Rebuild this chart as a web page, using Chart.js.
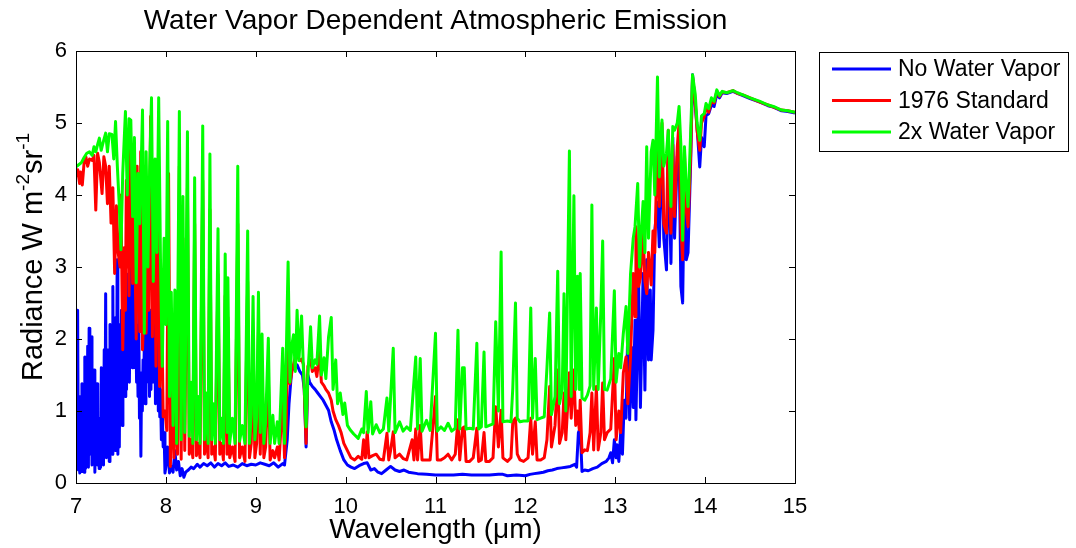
<!DOCTYPE html>
<html>
<head>
<meta charset="utf-8">
<script src="https://cdn.jsdelivr.net/npm/chart.js@4.4.1/dist/chart.umd.min.js"></script>
<style>
  html, body { margin: 0; padding: 0; background: #fff; }
  #wrap { position: relative; width: 1076px; height: 548px; }
</style>
</head>
<body>
<div id="wrap"><canvas id="chart-1" width="1076" height="548"></canvas></div>
<script>
const ctx1 = document.getElementById('chart-1');

const chartTitle = 'Water Vapor Dependent Atmospheric Emission';
const xTitle = 'Wavelength (\u03bcm)';
const seriesLabels = ['No Water Vapor', '1976 Standard', '2x Water Vapor'];
const seriesColors = ['#0000ff', '#ff0000', '#00ff00'];
const xTicks = [7, 8, 9, 10, 11, 12, 13, 14, 15];
const yTicks = [0, 1, 2, 3, 4, 5, 6];

// No Water Vapor
const wlBlue = [
  7.000, 7.008, 7.018, 7.026, 7.034, 7.042, 7.050, 7.058, 7.066, 7.074, 7.082, 7.090, 7.098, 7.106, 7.114, 7.122,
  7.130, 7.138, 7.146, 7.154, 7.162, 7.170, 7.178, 7.186, 7.194, 7.202, 7.210, 7.218, 7.226, 7.234, 7.242, 7.250,
  7.258, 7.266, 7.274, 7.282, 7.290, 7.298, 7.306, 7.314, 7.322, 7.330, 7.338, 7.346, 7.354, 7.362, 7.370, 7.378,
  7.386, 7.394, 7.402, 7.410, 7.418, 7.426, 7.434, 7.442, 7.450, 7.458, 7.466, 7.474, 7.482, 7.490, 7.498, 7.506,
  7.514, 7.522, 7.530, 7.538, 7.546, 7.554, 7.562, 7.570, 7.578, 7.586, 7.594, 7.602, 7.610, 7.618, 7.626, 7.634,
  7.642, 7.650, 7.658, 7.666, 7.674, 7.682, 7.690, 7.698, 7.706, 7.714, 7.722, 7.730, 7.738, 7.746, 7.754, 7.762,
  7.770, 7.778, 7.786, 7.794, 7.802, 7.810, 7.818, 7.826, 7.834, 7.842, 7.850, 7.860, 7.868, 7.876, 7.884, 7.892,
  7.900, 7.908, 7.916, 7.924, 7.932, 7.940, 7.950, 7.960, 7.970, 7.980, 7.990, 8.000,
  8.02, 8.04, 8.06, 8.08,
  8.10, 8.12, 8.14, 8.16, 8.18, 8.20, 8.22, 8.25, 8.28, 8.31, 8.35, 8.38, 8.42, 8.46, 8.50, 8.54, 8.58, 8.62, 8.66,
  8.70, 8.75, 8.80, 8.85, 8.90, 8.95, 9.00, 9.05, 9.10, 9.15, 9.20, 9.25, 9.30, 9.32, 9.35, 9.37, 9.40, 9.43, 9.46,
  9.49, 9.52, 9.54, 9.56, 9.58, 9.60, 9.63, 9.66, 9.69, 9.72, 9.75, 9.78, 9.81, 9.84, 9.87, 9.90, 9.94, 9.98, 10.02,
  10.06, 10.10, 10.15, 10.20, 10.24, 10.28, 10.32, 10.36, 10.40, 10.45, 10.50, 10.55, 10.60, 10.65, 10.70, 10.80,
  10.90, 11.00, 11.10, 11.20, 11.30, 11.40, 11.50, 11.60, 11.70, 11.75, 11.80, 11.90, 12.00, 12.05, 12.10, 12.15,
  12.20, 12.25, 12.30, 12.35, 12.40, 12.45, 12.50, 12.55, 12.57, 12.59, 12.61, 12.63, 12.66, 12.70, 12.75, 12.80,
  12.85, 12.90, 12.93, 12.95, 12.97, 12.99, 13.01, 13.02, 13.04, 13.06, 13.08, 13.10, 13.12, 13.14, 13.16, 13.18,
  13.20, 13.22, 13.23, 13.26, 13.28, 13.31, 13.33, 13.35, 13.37, 13.39, 13.40, 13.42, 13.44, 13.47, 13.49, 13.52,
  13.54, 13.57, 13.59, 13.62, 13.64, 13.66, 13.69, 13.71, 13.73, 13.75, 13.77, 13.79, 13.81, 13.84, 13.86, 13.89,
  13.91, 13.94, 13.96, 13.99, 14.01, 14.04, 14.07, 14.10, 14.13, 14.16, 14.19, 14.24, 14.31, 14.36, 14.42, 14.50,
  14.61, 14.70, 14.76, 14.85, 14.92, 15.00
];
const radBlue = [
  1.48, 0.23, 2.40, 0.18, 0.60, 0.14, 1.20, 0.16, 1.38, 0.25, 0.90, 0.15, 1.75, 0.20, 1.30, 0.30,
  1.90, 0.22, 2.15, 0.40, 1.60, 2.03, 0.25, 1.20, 0.30, 1.57, 0.15, 1.10, 0.30, 1.38, 0.25, 0.70,
  0.20, 0.90, 0.22, 1.60, 0.30, 1.20, 0.25, 1.85, 0.40, 2.63, 0.35, 1.40, 0.50, 1.85, 0.30, 2.20,
  0.50, 1.60, 0.40, 2.73, 0.60, 1.90, 0.45, 2.30, 0.80, 3.10, 0.40, 2.00, 0.50, 2.20, 1.20, 2.40,
  0.80, 3.10, 1.50, 2.50, 1.20, 2.40, 1.30, 2.90, 1.60, 2.68, 1.40, 2.36, 1.80, 3.00, 1.60, 2.50,
  1.90, 3.38, 1.60, 2.20, 1.40, 1.99, 1.20, 2.40, 0.90, 1.50, 0.37, 1.53, 1.00, 1.71, 1.30, 2.20,
  1.10, 1.80, 1.40, 2.60, 1.50, 1.90, 1.20, 2.40, 1.30, 2.30, 1.40, 3.19, 1.40, 2.50, 1.10, 2.77,
  1.30, 2.12, 1.00, 1.80, 0.92, 1.30, 0.60, 1.00, 0.50, 0.70, 0.14, 0.23,
  0.50, 0.14, 0.23, 0.15,
  0.45, 0.18, 0.30, 0.10, 0.20, 0.08, 0.15, 0.18, 0.22, 0.20, 0.26, 0.22, 0.27, 0.24, 0.28, 0.22, 0.27, 0.24, 0.28,
  0.23, 0.25, 0.22, 0.27, 0.24, 0.26, 0.25, 0.28, 0.26, 0.24, 0.28, 0.22, 0.27, 0.25, 0.60, 1.10, 1.57, 1.60, 1.64,
  1.55, 1.50, 1.30, 0.50, 1.50, 1.40, 1.34, 1.30, 1.25, 1.20, 1.15, 1.08, 1.01, 0.85, 0.74, 0.60, 0.45, 0.32, 0.25,
  0.22, 0.20, 0.24, 0.27, 0.28, 0.18, 0.20, 0.15, 0.13, 0.18, 0.23, 0.18, 0.16, 0.18, 0.15, 0.13,
  0.12, 0.11, 0.11, 0.11, 0.12, 0.11, 0.11, 0.11, 0.12, 0.12, 0.10, 0.11, 0.10, 0.12, 0.13, 0.14,
  0.15, 0.17, 0.18, 0.20, 0.21, 0.22, 0.23, 0.26, 0.22, 0.70, 0.76, 0.16, 0.18, 0.17, 0.20, 0.22,
  0.27, 0.30, 0.35, 0.42, 0.28, 0.60, 0.35, 0.53, 0.30, 0.69, 0.40, 1.15, 0.90, 2.17, 0.88, 1.89,
  1.05, 2.26, 0.88, 2.82, 1.05, 2.91, 1.29, 3.10, 1.71, 2.68, 1.71, 2.12, 3.50, 3.90, 3.28, 4.80,
  3.40, 2.96, 4.70, 3.05, 4.80, 3.40, 4.53, 4.70, 2.73, 2.50, 4.30, 3.10, 3.20, 4.50, 5.67, 5.25,
  4.95, 4.39, 4.80, 4.67, 5.10, 5.13, 5.25, 5.23, 5.40, 5.35, 5.42, 5.41, 5.44, 5.41, 5.38, 5.34,
  5.29, 5.24, 5.22, 5.17, 5.16, 5.14
];

// 1976 Standard
const wlRed = [
  7.00, 7.02, 7.04, 7.05, 7.07, 7.09, 7.11, 7.13, 7.15, 7.18, 7.20, 7.22, 7.24, 7.26, 7.29, 7.31, 7.33, 7.35, 7.37,
  7.39, 7.41, 7.43, 7.45, 7.47, 7.49, 7.50, 7.52, 7.54, 7.55, 7.56, 7.57, 7.58, 7.59, 7.61, 7.63, 7.64, 7.65, 7.67,
  7.68, 7.69, 7.71, 7.72, 7.74, 7.76, 7.77, 7.78, 7.80, 7.81, 7.83, 7.85, 7.87, 7.89, 7.91, 7.93, 7.95, 7.97, 7.99,
  8.01, 8.03, 8.05, 8.07, 8.09, 8.11, 8.13, 8.15, 8.17,
  8.19, 8.21, 8.24, 8.26, 8.28, 8.30, 8.32, 8.34, 8.36, 8.38, 8.41, 8.43, 8.45, 8.47, 8.49, 8.51, 8.53, 8.55, 8.58,
  8.60, 8.62, 8.64, 8.66, 8.68, 8.69, 8.71, 8.74, 8.77, 8.80, 8.82, 8.85, 8.88, 8.91, 8.93, 8.95, 8.97, 8.99, 9.01,
  9.03, 9.05, 9.07, 9.09, 9.11, 9.14, 9.16, 9.19, 9.21, 9.24, 9.26, 9.30, 9.32, 9.34, 9.36, 9.38, 9.41, 9.44, 9.46,
  9.49, 9.51, 9.53, 9.56, 9.58, 9.61, 9.63, 9.66, 9.68, 9.71, 9.73, 9.76, 9.78, 9.81, 9.84, 9.86, 9.89, 9.92, 9.95,
  9.98, 10.02, 10.06, 10.10, 10.14, 10.18, 10.20, 10.22, 10.24, 10.26, 10.30, 10.34, 10.38, 10.42, 10.46, 10.48,
  10.50, 10.53, 10.55, 10.60, 10.64, 10.68, 10.74, 10.76, 10.78, 10.80, 10.83, 10.85, 10.90, 10.94, 11.00, 11.02,
  11.06, 11.10, 11.14, 11.18, 11.22, 11.25, 11.27, 11.30, 11.32, 11.34, 11.38, 11.42, 11.46, 11.48, 11.51, 11.54,
  11.56, 11.60, 11.64, 11.67, 11.70, 11.73, 11.75, 11.80, 11.84, 11.86, 11.89, 11.91, 11.94, 11.98, 12.03, 12.06,
  12.08, 12.11, 12.13, 12.17, 12.21, 12.24, 12.27, 12.29, 12.33, 12.36, 12.38, 12.41, 12.43, 12.45, 12.49, 12.51,
  12.54, 12.56, 12.58, 12.60, 12.61, 12.63, 12.66, 12.69, 12.72, 12.74, 12.76, 12.79, 12.81, 12.84, 12.86, 12.88,
  12.91, 12.95, 12.99, 13.01, 13.04, 13.06, 13.09, 13.12, 13.14, 13.17, 13.20, 13.22, 13.23, 13.26, 13.28, 13.31,
  13.33, 13.35, 13.37, 13.40, 13.42, 13.44, 13.47, 13.49, 13.52, 13.54, 13.57, 13.59, 13.62, 13.64, 13.66, 13.69,
  13.71, 13.73, 13.75, 13.77, 13.79, 13.81, 13.84, 13.86, 13.89, 13.91, 13.94, 13.96, 13.99, 14.01, 14.04, 14.07,
  14.10, 14.13, 14.16, 14.19, 14.24, 14.31, 14.36, 14.42, 14.50, 14.61, 14.70, 14.76, 14.85, 14.92, 15.00
];
const radRed = [
  4.25, 4.35, 4.16, 4.32, 4.14, 4.45, 4.53, 4.40, 4.50, 4.48, 4.55, 3.79, 4.58, 4.45, 4.02, 4.53, 4.40, 3.88, 4.40,
  3.61, 4.10, 2.91, 3.85, 3.19, 3.00, 4.00, 1.85, 3.27, 2.40, 4.20, 3.00, 4.62, 2.60, 4.72, 2.77, 4.20, 3.70, 2.00,
  4.40, 3.27, 2.10, 4.60, 1.85, 2.60, 4.00, 2.08, 3.50, 2.40, 5.09, 2.03, 4.16, 1.62, 4.50, 1.34, 2.80, 0.92, 1.00,
  0.73, 4.30, 0.23, 1.40, 0.35, 1.30, 0.40, 4.40, 0.33,
  3.40, 0.45, 4.10, 0.40, 0.60, 0.35, 3.60, 0.38, 0.55, 0.35, 4.20, 0.40, 0.69, 0.35, 3.80, 0.40, 0.50, 0.32, 2.90,
  0.40, 0.55, 0.32, 2.60, 0.40, 2.30, 0.35, 0.50, 0.30, 3.60, 0.35, 0.50, 0.30, 2.80, 0.35, 0.55, 2.00, 0.35, 0.55,
  2.10, 0.40, 1.60, 0.35, 0.50, 1.50, 0.32, 0.45, 0.35, 0.50, 0.32, 1.20, 0.35, 0.83, 2.20, 1.38, 1.60, 1.75, 1.77,
  1.70, 1.72, 1.65, 0.55, 1.62, 1.71, 1.55, 1.60, 1.48, 1.82, 1.40, 1.35, 1.30, 1.25, 1.15, 1.00, 0.88, 0.80, 0.70,
  0.55, 0.45, 0.35, 0.32, 0.37, 0.33, 0.60, 0.35, 0.71, 0.35, 0.38, 0.40, 0.33, 0.32, 0.69, 0.32,
  0.45, 0.71, 0.35, 0.40, 0.34, 0.32, 0.60, 0.32, 0.75, 0.32, 0.80, 0.32, 0.32, 0.32, 1.20, 0.32,
  0.32, 0.35, 0.40, 0.32, 0.40, 0.88, 0.32, 0.76, 0.78, 0.30, 0.30, 0.35, 0.76, 0.30, 0.32, 0.70,
  0.30, 0.30, 0.35, 1.06, 0.50, 1.01, 0.35, 0.30, 0.35, 0.85, 0.90, 0.40, 0.32, 0.30, 0.35, 0.90,
  0.40, 0.85, 0.32, 0.32, 0.35, 0.60, 1.34, 0.50, 0.80, 1.57, 0.55, 0.70, 1.25, 0.60, 1.53, 0.90,
  1.57, 0.80, 1.00, 0.74, 1.15, 0.42, 0.46, 0.45, 0.70, 1.25, 0.46, 1.34, 0.46, 0.70, 1.39, 0.60,
  0.70, 0.75, 1.73, 0.60, 1.00, 0.70, 1.53, 1.75, 1.10, 1.75, 2.91, 2.31, 3.56, 2.73, 2.85, 3.47,
  2.80, 2.63, 3.20, 2.75, 3.50, 3.20, 4.86, 3.84, 5.00, 3.60, 3.47, 4.90, 3.47, 4.70, 3.70, 4.67,
  5.00, 3.56, 3.10, 4.60, 3.79, 3.56, 4.60, 5.64, 5.30, 4.90, 4.62, 5.00, 5.09, 5.20, 5.15, 5.30,
  5.28, 5.44, 5.37, 5.43, 5.42, 5.45, 5.41, 5.39, 5.35, 5.29, 5.25, 5.22, 5.18, 5.17, 5.15
];

// 2x Water Vapor
const wlGreen = [
  7.00, 7.03, 7.06, 7.09, 7.12, 7.15, 7.18, 7.20, 7.22, 7.24, 7.26, 7.28, 7.30, 7.33, 7.35, 7.37, 7.40, 7.42, 7.44,
  7.46, 7.48, 7.50, 7.52, 7.55, 7.57, 7.59, 7.61, 7.63, 7.65, 7.67, 7.69, 7.71, 7.74, 7.76, 7.78, 7.80, 7.82, 7.84,
  7.86, 7.88, 7.90, 7.92, 7.94, 7.96, 7.98, 8.00, 8.02, 8.04, 8.06, 8.08, 8.10, 8.12, 8.15, 8.17, 8.19, 8.21, 8.24,
  8.26, 8.28, 8.30, 8.32, 8.34, 8.36, 8.38, 8.41, 8.43, 8.45, 8.47, 8.49, 8.51, 8.53, 8.55, 8.58, 8.60, 8.62, 8.64,
  8.66, 8.68, 8.69, 8.71, 8.74, 8.77, 8.80, 8.82, 8.85, 8.88, 8.91, 8.93, 8.95, 8.97, 8.99, 9.01, 9.03, 9.05, 9.07,
  9.09, 9.11, 9.14, 9.16, 9.19, 9.21, 9.24, 9.26, 9.30, 9.32, 9.36, 9.38, 9.40, 9.42, 9.44, 9.46, 9.48, 9.51, 9.53,
  9.56, 9.58, 9.61, 9.63, 9.66, 9.68, 9.71, 9.73, 9.76, 9.78, 9.81, 9.84, 9.86, 9.89, 9.91, 9.94, 9.97, 9.99, 10.02,
  10.05, 10.09, 10.14, 10.18, 10.20, 10.23, 10.25, 10.28, 10.30, 10.34, 10.38, 10.42, 10.46, 10.48, 10.53, 10.55,
  10.60, 10.64, 10.68, 10.72, 10.78, 10.80, 10.83, 10.85, 10.90, 10.94, 11.00, 11.02, 11.06, 11.10, 11.14, 11.18,
  11.22, 11.25, 11.27, 11.30, 11.32, 11.34, 11.38, 11.42, 11.46, 11.48, 11.51, 11.54, 11.56, 11.60, 11.64, 11.67,
  11.70, 11.73, 11.75, 11.80, 11.84, 11.86, 11.89, 11.91, 11.94, 11.98, 12.03, 12.06, 12.08, 12.11, 12.13, 12.17,
  12.21, 12.24, 12.27, 12.29, 12.33, 12.36, 12.38, 12.41, 12.43, 12.45, 12.49, 12.51, 12.54, 12.56, 12.58, 12.60,
  12.61, 12.63, 12.66, 12.69, 12.72, 12.74, 12.76, 12.79, 12.81, 12.84, 12.86, 12.88, 12.91, 12.95, 12.99, 13.01,
  13.04, 13.06, 13.09, 13.12, 13.14, 13.17, 13.20, 13.22, 13.25, 13.27, 13.29, 13.31, 13.33, 13.35, 13.37, 13.40,
  13.42, 13.44, 13.47, 13.49, 13.52, 13.54, 13.57, 13.59, 13.62, 13.64, 13.66, 13.69, 13.71, 13.73, 13.75, 13.77,
  13.79, 13.81, 13.84, 13.86, 13.89, 13.91, 13.94, 13.96, 13.99, 14.01, 14.04, 14.07, 14.10, 14.13, 14.16, 14.19,
  14.24, 14.31, 14.36, 14.42, 14.50, 14.61, 14.70, 14.76, 14.85, 14.92, 15.00
];
const radGreen = [
  4.39, 4.42, 4.45, 4.52, 4.58, 4.60, 4.55, 4.67, 4.60, 4.70, 4.79, 4.62, 4.72, 4.86, 4.60, 4.85, 4.84, 4.50, 5.02,
  4.40, 3.90, 3.24, 4.30, 5.16, 4.00, 5.06, 5.04, 3.70, 4.80, 2.78, 4.30, 3.60, 5.18, 2.08, 4.60, 3.00, 4.40, 5.35,
  2.80, 4.50, 3.20, 5.35, 3.10, 1.62, 3.40, 2.20, 5.02, 1.20, 2.65, 0.80, 2.68, 0.55, 5.16, 0.60, 3.98, 0.70, 4.88,
  0.65, 1.40, 0.55, 4.24, 0.60, 1.20, 0.55, 4.96, 0.60, 1.25, 0.55, 4.57, 0.60, 1.10, 0.55, 3.53, 0.60, 0.90, 0.55,
  3.18, 0.70, 2.85, 0.55, 0.90, 0.55, 4.40, 0.58, 0.80, 0.55, 3.50, 0.55, 0.95, 2.59, 0.60, 0.90, 2.65, 0.70, 2.07,
  0.55, 0.85, 2.01, 0.55, 0.94, 0.55, 0.85, 0.55, 1.87, 0.55, 3.07, 1.40, 1.90, 2.06, 1.55, 2.40, 1.70, 2.32, 1.60,
  0.78, 1.50, 2.17, 1.60, 1.71, 1.65, 2.32, 1.50, 1.74, 1.45, 2.03, 2.30, 1.30, 1.71, 1.10, 1.25, 0.95, 1.11, 0.80,
  0.74, 0.68, 0.62, 0.75, 0.70, 1.27, 0.70, 1.13, 0.68, 0.81, 0.70, 0.75, 1.18, 0.72, 1.87, 0.70,
  0.85, 0.72, 0.78, 0.73, 1.75, 0.75, 1.73, 0.72, 0.87, 0.73, 2.08, 0.72, 0.78, 0.73, 0.83, 0.72,
  0.76, 2.12, 0.75, 1.60, 1.60, 0.75, 0.76, 0.75, 1.94, 0.75, 0.78, 1.82, 0.78, 0.80, 0.82, 2.24,
  1.00, 3.21, 0.85, 0.86, 0.85, 1.32, 2.50, 0.90, 0.85, 0.86, 0.86, 2.43, 0.90, 1.73, 0.88, 0.90,
  0.92, 1.60, 2.36, 0.95, 1.20, 2.94, 1.10, 1.30, 2.63, 1.00, 4.61, 1.20, 3.99, 1.30, 2.87, 1.30,
  2.91, 1.18, 1.15, 1.22, 1.35, 3.86, 1.30, 2.43, 1.30, 2.40, 3.36, 1.30, 1.29, 1.45, 2.67, 1.40,
  1.80, 1.60, 2.08, 2.45, 1.80, 2.90, 3.40, 3.56, 4.16, 3.00, 3.50, 3.91, 3.20, 4.67, 3.40, 4.60,
  4.76, 4.00, 5.64, 4.25, 5.04, 4.40, 4.58, 4.90, 3.84, 4.95, 4.90, 5.00, 5.23, 4.70, 3.37, 4.67,
  4.12, 3.84, 4.90, 5.67, 5.40, 5.00, 4.76, 5.10, 5.13, 5.27, 5.20, 5.35, 5.30, 5.46, 5.38, 5.44,
  5.42, 5.45, 5.42, 5.39, 5.35, 5.30, 5.25, 5.23, 5.18, 5.17, 5.15
];

const fontFamily = "'Liberation Sans', Arial, sans-serif";

function toPoints(xs, ys) {
  return xs.map((x, i) => ({x: x, y: ys[i]}));
}

// frame, inward ticks, titles and boxed legend in the MATLAB look
const matlabFrame = {
  id: 'matlabFrame',
  afterDraw(chart) {
    const c = chart.ctx;
    const a = chart.chartArea;
    const sx = chart.scales.x, sy = chart.scales.y;
    c.save();
    c.strokeStyle = '#000';
    c.lineWidth = 1;
    c.strokeRect(a.left + 0.5, a.top + 0.5, a.right - a.left, a.bottom - a.top);
    c.beginPath();
    xTicks.forEach(v => {
      const px = Math.round(sx.getPixelForValue(v)) + 0.5;
      c.moveTo(px, a.bottom); c.lineTo(px, a.bottom - 6);
      c.moveTo(px, a.top); c.lineTo(px, a.top + 6);
    });
    yTicks.forEach(v => {
      const py = Math.round(sy.getPixelForValue(v)) + 0.5;
      c.moveTo(a.left, py); c.lineTo(a.left + 6, py);
      c.moveTo(a.right, py); c.lineTo(a.right - 6, py);
    });
    c.stroke();

    c.fillStyle = '#000';
    c.textAlign = 'center';
    c.textBaseline = 'middle';
    c.font = '28px ' + fontFamily;
    c.fillText(chartTitle, (a.left + a.right) / 2, 21);
    c.font = '28px ' + fontFamily;
    c.fillText(xTitle, (a.left + a.right) / 2, 530);

    // y title with superscripts
    c.save();
    c.translate(34, 257);
    c.rotate(-Math.PI / 2);
    const parts = [['Radiance W m', 0], ['-2', 1], ['sr', 0], ['-1', 1]];
    let total = 0;
    parts.forEach(p => {
      c.font = (p[1] ? '19px ' : '29px ') + fontFamily;
      total += c.measureText(p[0]).width;
    });
    let x = -total / 2;
    c.textAlign = 'left';
    parts.forEach(p => {
      c.font = (p[1] ? '19px ' : '29px ') + fontFamily;
      c.fillText(p[0], x, p[1] ? -10 : 0);
      x += c.measureText(p[0]).width;
    });
    c.restore();

    // legend box
    c.strokeRect(819.5, 52.5, 249, 99);
    c.font = '23px ' + fontFamily;
    c.textAlign = 'left';
    chart.data.datasets.forEach((ds, i) => {
      const y = 69 + i * 31.5;
      c.strokeStyle = ds.borderColor;
      c.lineWidth = 3;
      c.beginPath();
      c.moveTo(832, y); c.lineTo(891, y);
      c.stroke();
      c.fillText(ds.label, 898, y + 1);
    });
    c.restore();
  }
};

new Chart(ctx1, {
  type: 'line',
  data: {
    datasets: [
      {label: seriesLabels[0], data: toPoints(wlBlue, radBlue), borderColor: seriesColors[0], order: 3},
      {label: seriesLabels[1], data: toPoints(wlRed, radRed), borderColor: seriesColors[1], order: 2},
      {label: seriesLabels[2], data: toPoints(wlGreen, radGreen), borderColor: seriesColors[2], order: 1}
    ]
  },
  options: {
    responsive: false,
    animation: false,
    events: [],
    elements: {
      line: {borderWidth: 3, tension: 0, borderJoinStyle: 'round'},
      point: {radius: 0}
    },
    layout: {padding: {top: 51, right: 281, left: 0, bottom: 0}},
    plugins: {
      legend: {display: false},
      title: {display: false},
      tooltip: {enabled: false}
    },
    scales: {
      x: {
        type: 'linear',
        min: 7,
        max: 15,
        afterFit: s => { s.height = 65; },
        afterBuildTicks: s => { s.ticks = xTicks.map(v => ({value: v})); },
        grid: {display: false, drawTicks: false},
        border: {display: false},
        ticks: {color: '#000', padding: 11, font: {family: fontFamily, size: 22}, maxRotation: 0}
      },
      y: {
        type: 'linear',
        min: 0,
        max: 6,
        afterFit: s => { s.width = 76; },
        afterBuildTicks: s => { s.ticks = yTicks.map(v => ({value: v})); },
        grid: {display: false, drawTicks: false},
        border: {display: false},
        ticks: {color: '#000', padding: 9, font: {family: fontFamily, size: 22}}
      }
    }
  },
  plugins: [matlabFrame]
});
</script>
</body>
</html>
